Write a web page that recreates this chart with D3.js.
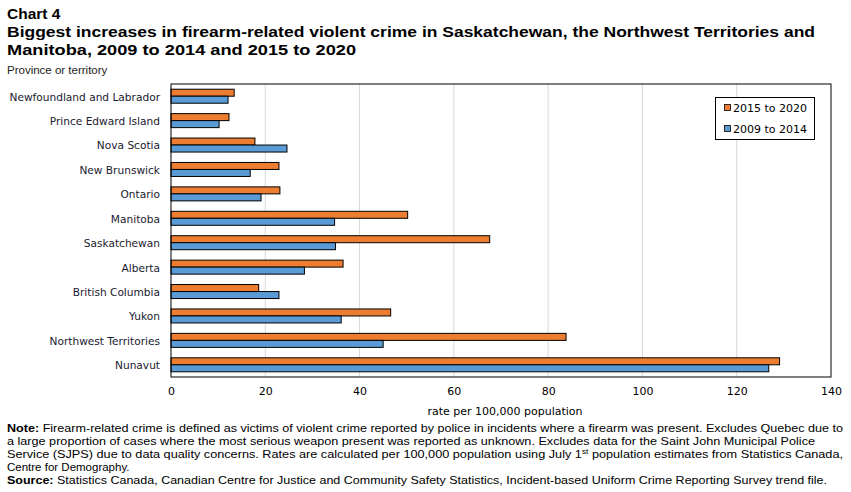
<!DOCTYPE html>
<html><head><meta charset="utf-8">
<script src="https://cdn.jsdelivr.net/npm/d3@7"></script>
<style>body{margin:0;background:#fff}svg{display:block}</style>
</head><body>
<svg id="c" width="851" height="492"></svg>
<script>
const categories = ["Newfoundland and Labrador","Prince Edward Island","Nova Scotia","New Brunswick","Ontario","Manitoba","Saskatchewan","Alberta","British Columbia","Yukon","Northwest Territories","Nunavut"];
const series2015to2020 = [13.4, 12.3, 17.8, 22.9, 23.1, 50.2, 67.6, 36.5, 18.6, 46.6, 83.8, 129.1];
const series2009to2014 = [12.1, 10.2, 24.6, 16.8, 19.1, 34.7, 34.9, 28.3, 22.9, 36.1, 45.0, 126.8];
const seriesNames = ["2015 to 2020", "2009 to 2014"];
const seriesColors = ["#ED7D31", "#5B9BD5"];
const xTicks = [0, 20, 40, 60, 80, 100, 120, 140];

const svg = d3.select("#c");
const M = {left: 171, right: 831, top: 84, bottom: 377};
const x = d3.scaleLinear().domain([0, 140]).range([M.left, M.right]);
const y = d3.scaleBand().domain(categories).range([M.top, M.bottom]);
const bh = 7;

const labelFont = "DejaVu Sans, Verdana, sans-serif";
const titleFont = "Liberation Sans, Arial, sans-serif";

// Title
function fitText(sel, w){ sel.attr("textLength", w).attr("lengthAdjust","spacingAndGlyphs"); }
svg.append("text").attr("x",7).attr("y",19).attr("font-family",titleFont).attr("font-weight","bold").attr("font-size",15.5).attr("fill","#000").text("Chart 4");
fitText(svg.append("text").attr("x",7).attr("y",37).attr("font-family",titleFont).attr("font-weight","bold").attr("font-size",15.5).text("Biggest increases in firearm-related violent crime in Saskatchewan, the Northwest Territories and"), 808);
fitText(svg.append("text").attr("x",7).attr("y",55).attr("font-family",titleFont).attr("font-weight","bold").attr("font-size",15.5).text("Manitoba, 2009 to 2014 and 2015 to 2020"), 349);
svg.append("text").attr("x",7).attr("y",74).attr("font-family",titleFont).attr("font-size",11.5).attr("fill","#222").text("Province or territory");

// gridlines
svg.append("g").selectAll("line").data(xTicks.slice(1,-1)).join("line")
  .attr("x1",d=>x(d)).attr("x2",d=>x(d)).attr("y1",M.top).attr("y2",M.bottom)
  .attr("stroke","#d9d9d9").attr("stroke-width",1);

// bars
const gb = svg.append("g");
categories.forEach((c,i)=>{
  const cy = y(c) + y.bandwidth()/2;
  gb.append("rect").attr("x",x(0)).attr("y",cy-bh).attr("width",x(series2015to2020[i])-x(0)).attr("height",bh)
    .attr("fill",seriesColors[0]).attr("stroke","#000").attr("stroke-width",1);
  gb.append("rect").attr("x",x(0)).attr("y",cy).attr("width",x(series2009to2014[i])-x(0)).attr("height",bh)
    .attr("fill",seriesColors[1]).attr("stroke","#000").attr("stroke-width",1);
});

// frame
svg.append("rect").attr("x",M.left).attr("y",M.top).attr("width",M.right-M.left).attr("height",M.bottom-M.top)
  .attr("fill","none").attr("stroke","#000").attr("stroke-width",1);

// y axis labels
const ya = svg.append("g").attr("transform",`translate(${M.left},1)`)
  .call(d3.axisLeft(y).tickSize(0).tickPadding(11));
ya.select(".domain").remove();
ya.selectAll("text").attr("font-family",labelFont).attr("font-size",10.6).attr("fill","#1a1a2e");

// x axis labels
const xa = svg.append("g").attr("transform",`translate(0,${M.bottom})`)
  .call(d3.axisBottom(x).tickValues(xTicks).tickSize(0).tickPadding(10).tickFormat(d3.format("d")));
xa.select(".domain").remove();
xa.selectAll("text").attr("font-family",labelFont).attr("font-size",11).attr("fill","#000");
svg.append("text").attr("x",505).attr("y",415).attr("text-anchor","middle").attr("font-family",labelFont).attr("font-size",11).text("rate per 100,000 population");

// legend
const lg = svg.append("g");
lg.append("rect").attr("x",715.5).attr("y",97.5).attr("width",99).attr("height",42).attr("fill","#fff").attr("stroke","#000");
seriesNames.forEach((n,i)=>{
  const ly = 108 + i*21;
  lg.append("rect").attr("x",724.5).attr("y",ly-3.5).attr("width",6).attr("height",6).attr("fill",seriesColors[i]).attr("stroke","#000").attr("stroke-width",0.8);
  lg.append("text").attr("x",733).attr("y",ly+4).attr("font-family",labelFont).attr("font-size",11).text(n);
});

// notes
const nf = titleFont;
const notes = svg.append("g").attr("font-family",nf).attr("font-size",11.5).attr("fill","#000");
const l1 = notes.append("text").attr("x",7).attr("y",432);
l1.append("tspan").attr("font-weight","bold").text("Note:");
l1.append("tspan").text(" Firearm-related crime is defined as victims of violent crime reported by police in incidents where a firearm was present. Excludes Quebec due to");
fitText(l1, 836);
fitText(notes.append("text").attr("x",7).attr("y",445).text("a large proportion of cases where the most serious weapon present was reported as unknown. Excludes data for the Saint John Municipal Police"), 808);
const l3 = notes.append("text").attr("x",7).attr("y",458);
l3.append("tspan").text("Service (SJPS) due to data quality concerns. Rates are calculated per 100,000 population using July 1");
l3.append("tspan").attr("font-size",7.5).attr("dy",-4).text("st");
l3.append("tspan").attr("dy",4).text(" population estimates from Statistics Canada,");
fitText(l3, 836);
notes.append("text").attr("x",7).attr("y",471).text("Centre for Demography.");
const l5 = notes.append("text").attr("x",7).attr("y",484);
l5.append("tspan").attr("font-weight","bold").text("Source:");
l5.append("tspan").text(" Statistics Canada, Canadian Centre for Justice and Community Safety Statistics, Incident-based Uniform Crime Reporting Survey trend file.");
fitText(l5, 820);
</script>
</body></html>
